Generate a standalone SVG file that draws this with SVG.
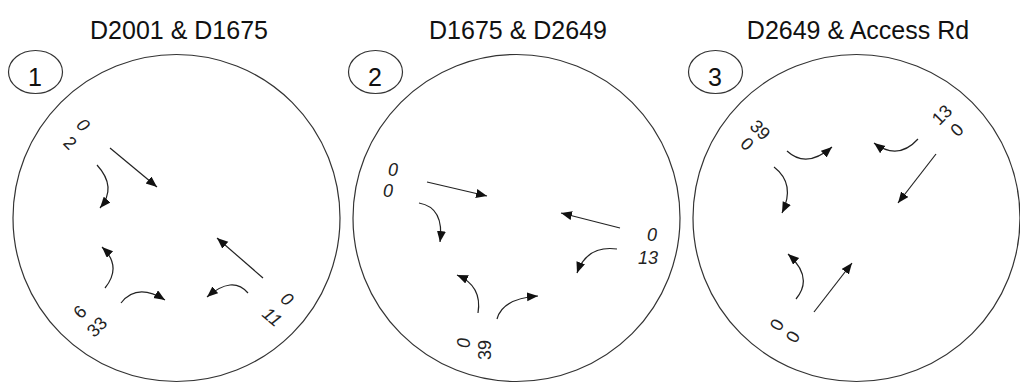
<svg xmlns="http://www.w3.org/2000/svg" width="1020" height="385" viewBox="0 0 1020 385">
<style>
.ring{fill:none;stroke:#333;stroke-width:1.2}
.badge{fill:#fff;stroke:#333;stroke-width:1.2}
.title{font-family:"Liberation Sans",Arial,sans-serif;font-size:25px;fill:#111;text-anchor:middle}
.num{font-family:"Liberation Sans",Arial,sans-serif;font-size:25px;fill:#111;text-anchor:middle;dominant-baseline:central}
.lbl{font-family:"Liberation Sans",Arial,sans-serif;font-size:18px;fill:#222;text-anchor:middle;dominant-baseline:central}
.it{font-style:italic}
.arr{fill:none;stroke:#222;stroke-width:1.2;marker-end:url(#ah)}
</style>
<defs>
<marker id="ah" markerUnits="userSpaceOnUse" markerWidth="12" markerHeight="10" refX="11" refY="4.5" orient="auto">
<path d="M0,0 L11,4.5 L0,9 z" fill="#111"/>
</marker>
</defs>
<rect width="1020" height="385" fill="#fff"/>

<g id="intersection-1">
<text class="title" x="179" y="39">D2001 &amp; D1675</text>
<circle class="ring" cx="176.5" cy="218" r="163.5"/>
<ellipse class="badge" cx="35.5" cy="72" rx="27" ry="21.5"/>
<text class="num" x="35" y="77">1</text>
<text class="lbl it" transform="translate(83,125) rotate(45)">0</text>
<text class="lbl" transform="translate(70,143) rotate(45)">2</text>
<text class="lbl" transform="translate(80,312) rotate(-45)">6</text>
<text class="lbl" transform="translate(97,327) rotate(-45)">33</text>
<text class="lbl it" transform="translate(287,299) rotate(40)">0</text>
<text class="lbl it" transform="translate(272,317) rotate(40)">11</text>
</g>

<g id="intersection-2">
<text class="title" x="518" y="39">D1675 &amp; D2649</text>
<circle class="ring" cx="516.5" cy="218" r="163.5"/>
<ellipse class="badge" cx="375.5" cy="72" rx="27" ry="21.5"/>
<text class="num" x="375" y="77">2</text>
<text class="lbl it" x="393" y="170">0</text>
<text class="lbl it" x="388" y="191">0</text>
<text class="lbl it" x="652" y="235">0</text>
<text class="lbl it" x="648" y="258">13</text>
<text class="lbl it" transform="translate(464,343) rotate(-90)">0</text>
<text class="lbl" transform="translate(485,350) rotate(-90)">39</text>
</g>

<g id="intersection-3">
<text class="title" x="858" y="39">D2649 &amp; Access Rd</text>
<circle class="ring" cx="856.5" cy="218" r="163.5"/>
<ellipse class="badge" cx="715.5" cy="72" rx="27" ry="21.5"/>
<text class="num" x="715" y="77">3</text>
<text class="lbl" transform="translate(760,130) rotate(45)">39</text>
<text class="lbl" transform="translate(747,144) rotate(45)">0</text>
<text class="lbl" transform="translate(942,115) rotate(-45)">13</text>
<text class="lbl" transform="translate(957,130) rotate(-45)">0</text>
<text class="lbl" transform="translate(777,325) rotate(-60)">0</text>
<text class="lbl" transform="translate(793,337) rotate(-60)">0</text>
</g>

<g id="connectors">
<path class="arr" d="M110,148 L157,187"/>
<path class="arr" d="M97,165 Q117.5,187.5 100,208"/>
<path class="arr" d="M105,288 Q122.5,266.5 102,247"/>
<path class="arr" d="M121,303 Q137,282.5 165,300"/>
<path class="arr" d="M263,278 L217,238"/>
<path class="arr" d="M248,293 Q232.5,275 207,297"/>

<path class="arr" d="M427,182 L487,196"/>
<path class="arr" d="M419,203 Q444.5,207.5 440,242"/>
<path class="arr" d="M620,228 L561,213"/>
<path class="arr" d="M617,249 Q587,245 577,273"/>
<path class="arr" d="M478,313 Q482.5,286 457,275"/>
<path class="arr" d="M497,319 Q502.5,298.5 538,296"/>

<path class="arr" d="M787,151 Q806.5,169 832,147"/>
<path class="arr" d="M774,167 Q796,184 782,213"/>
<path class="arr" d="M918,139 Q898,161 874,143"/>
<path class="arr" d="M936,154 L898,203"/>
<path class="arr" d="M796,299 Q814,277.5 788,254"/>
<path class="arr" d="M814,312 L852,263"/>
</g>
</svg>
